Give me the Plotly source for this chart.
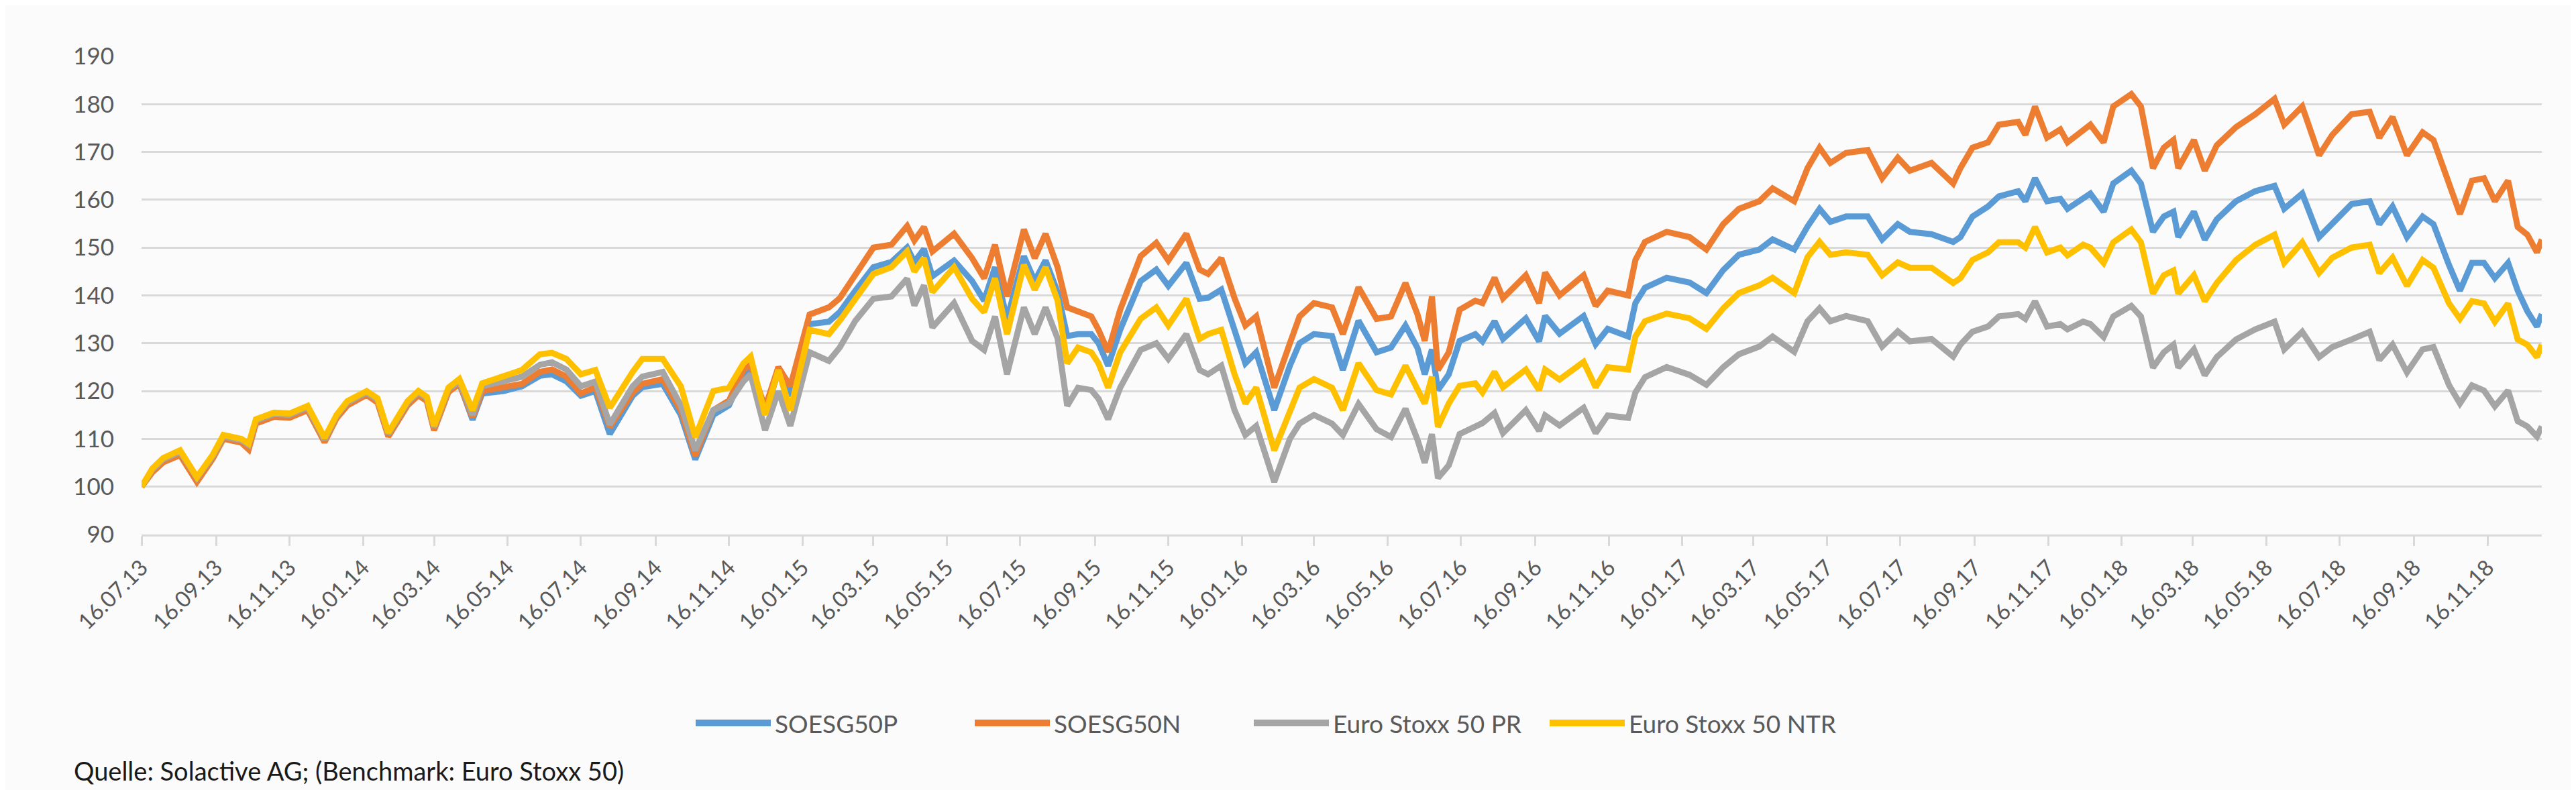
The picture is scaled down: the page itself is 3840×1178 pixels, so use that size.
import plotly.graph_objects as go

dates = [
    "2013-07-16", "2013-07-25", "2013-08-03", "2013-08-17", "2013-08-31", "2013-09-13", "2013-09-22",
    "2013-10-07", "2013-10-13", "2013-10-19", "2013-11-03", "2013-11-16", "2013-12-01", "2013-12-15",
    "2013-12-25", "2014-01-03", "2014-01-19", "2014-01-28", "2014-02-06", "2014-02-22", "2014-03-03",
    "2014-03-10", "2014-03-16", "2014-03-28", "2014-04-06", "2014-04-17", "2014-04-25", "2014-05-13",
    "2014-05-28", "2014-06-12", "2014-06-22", "2014-07-04", "2014-07-16", "2014-07-28", "2014-08-09",
    "2014-08-28", "2014-09-05", "2014-09-22", "2014-10-07", "2014-10-19", "2014-11-03", "2014-11-16",
    "2014-11-28", "2014-12-04", "2014-12-16", "2014-12-27", "2015-01-06", "2015-01-22", "2015-02-07",
    "2015-02-16", "2015-03-01", "2015-03-16", "2015-03-31", "2015-04-13", "2015-04-19", "2015-04-27",
    "2015-05-04", "2015-05-22", "2015-06-06", "2015-06-16", "2015-06-25", "2015-07-05", "2015-07-19",
    "2015-07-28", "2015-08-06", "2015-08-16", "2015-08-24", "2015-09-02", "2015-09-13", "2015-09-19",
    "2015-09-27", "2015-10-07", "2015-10-24", "2015-11-06", "2015-11-16", "2015-12-01", "2015-12-12",
    "2015-12-19", "2015-12-30", "2016-01-10", "2016-01-19", "2016-01-28", "2016-02-12", "2016-02-25",
    "2016-03-04", "2016-03-16", "2016-03-31", "2016-04-09", "2016-04-22", "2016-05-07", "2016-05-19",
    "2016-05-31", "2016-06-10", "2016-06-16", "2016-06-22", "2016-06-27", "2016-07-06", "2016-07-15",
    "2016-07-28", "2016-08-03", "2016-08-13", "2016-08-20", "2016-09-08", "2016-09-19", "2016-09-24",
    "2016-10-06", "2016-10-26", "2016-11-05", "2016-11-15", "2016-12-02", "2016-12-08", "2016-12-16",
    "2017-01-03", "2017-01-22", "2017-02-05", "2017-02-19", "2017-03-04", "2017-03-21", "2017-04-01",
    "2017-04-19", "2017-04-30", "2017-05-10", "2017-05-19", "2017-06-01", "2017-06-19", "2017-07-01",
    "2017-07-14", "2017-07-24", "2017-08-11", "2017-08-29", "2017-09-04", "2017-09-14", "2017-09-27",
    "2017-10-06", "2017-10-22", "2017-10-28", "2017-11-05", "2017-11-15", "2017-11-26", "2017-12-02",
    "2017-12-15", "2017-12-21", "2018-01-01", "2018-01-09", "2018-01-24", "2018-02-01", "2018-02-11",
    "2018-02-20", "2018-02-28", "2018-03-04", "2018-03-17", "2018-03-26", "2018-04-05", "2018-04-21",
    "2018-05-07", "2018-05-23", "2018-05-31", "2018-06-15", "2018-06-29", "2018-07-10", "2018-07-26",
    "2018-08-10", "2018-08-18", "2018-08-29", "2018-09-10", "2018-09-23", "2018-10-02", "2018-10-15",
    "2018-10-24", "2018-11-03", "2018-11-13", "2018-11-22", "2018-12-03", "2018-12-11", "2018-12-19",
    "2018-12-27", "2018-12-31",
]

soesg50p = [
    100.0, 103.3, 105.4, 107.0, 101.5, 106.0, 110.3, 109.5, 108.5, 113.6, 115.0, 114.8, 116.4, 109.6,
    114.6, 117.4, 119.5, 118.0, 110.8, 117.4, 119.5, 118.2, 112.0, 120.0, 121.7, 114.0, 119.5, 120.0,
    121.0, 123.2, 123.5, 122.0, 119.0, 120.0, 111.0, 119.0, 120.8, 121.5, 115.0, 105.7, 115.0, 117.0,
    123.5, 124.8, 115.5, 124.0, 119.0, 134.0, 134.5, 136.5, 141.0, 145.9, 147.0, 150.0, 147.0, 149.7,
    144.0, 147.3, 143.0, 138.9, 145.9, 135.0, 148.2, 143.0, 147.3, 140.7, 131.5, 131.9, 131.9, 130.0,
    125.3, 132.8, 143.0, 145.4, 142.0, 146.8, 139.3, 139.5, 141.2, 132.8, 125.8, 128.1, 116.0, 125.3,
    130.0, 131.9, 131.5, 124.4, 134.7, 128.1, 129.1, 133.7, 129.0, 123.5, 128.7, 120.2, 123.5, 130.5,
    131.9, 130.4, 134.6, 130.9, 135.2, 130.4, 135.7, 132.0, 135.7, 129.8, 133.0, 131.4, 138.4, 141.6,
    143.7, 142.7, 140.5, 145.3, 148.5, 149.6, 151.7, 149.6, 154.4, 158.1, 155.4, 156.5, 156.5, 151.7,
    154.9, 153.3, 152.8, 151.2, 152.2, 156.5, 158.6, 160.7, 161.8, 159.7, 164.5, 159.7, 160.2, 158.1,
    160.2, 161.3, 157.5, 163.4, 166.1, 163.4, 153.3, 156.5, 157.5, 152.2, 157.5, 151.7, 155.9, 159.7,
    161.8, 162.9, 158.1, 161.3, 152.2, 154.9, 159.1, 159.7, 154.9, 158.6, 152.2, 156.5, 154.9, 146.3,
    141.0, 146.8, 146.8, 143.6, 146.8, 141.0, 136.7, 133.5, 136.1,
]

soesg50n = [
    100.0, 103.0, 105.1, 106.6, 101.0, 105.8, 110.0, 109.2, 107.8, 113.2, 114.6, 114.4, 116.0, 109.3,
    114.3, 117.0, 119.2, 117.6, 110.5, 117.0, 119.1, 117.9, 111.8, 119.8, 121.5, 114.5, 120.0, 120.8,
    121.5, 124.0, 124.5, 123.0, 119.5, 120.8, 112.5, 119.7, 121.5, 122.5, 116.0, 106.5, 116.0, 118.0,
    124.4, 125.5, 116.5, 125.0, 121.0, 136.0, 137.5, 139.4, 144.5, 150.0, 150.6, 154.5, 151.5, 154.3,
    149.2, 152.9, 147.8, 143.6, 150.6, 139.8, 153.8, 147.8, 152.9, 145.9, 137.5, 136.5, 135.6, 132.8,
    128.2, 137.0, 148.2, 151.0, 147.3, 152.9, 145.4, 144.5, 147.8, 139.4, 133.7, 135.6, 120.7, 130.0,
    135.6, 138.4, 137.5, 131.9, 141.7, 135.1, 135.6, 142.6, 136.0, 130.5, 139.8, 124.4, 128.1, 137.0,
    138.9, 138.4, 143.7, 139.4, 144.2, 138.4, 144.8, 140.0, 144.2, 137.8, 141.0, 140.0, 147.4, 151.2,
    153.3, 152.2, 149.6, 154.9, 158.1, 159.7, 162.4, 159.7, 166.6, 170.9, 167.7, 169.8, 170.4, 164.5,
    168.8, 166.1, 167.7, 163.4, 166.6, 170.9, 172.0, 175.7, 176.3, 173.6, 179.5, 173.0, 174.7, 172.0,
    174.7, 175.7, 172.0, 179.5, 182.1, 179.5, 166.6, 170.9, 172.5, 166.6, 172.5, 166.1, 171.4, 175.2,
    177.9, 181.1, 175.7, 179.5, 169.3, 173.6, 177.9, 178.4, 173.0, 177.3, 169.3, 174.1, 172.5, 162.9,
    157.0, 164.0, 164.5, 159.7, 164.0, 154.3, 152.7, 149.0, 151.7,
]

euro_stoxx_50_pr = [
    100.0, 103.5, 105.7, 107.3, 101.8, 106.3, 110.5, 109.7, 108.7, 113.8, 115.2, 115.0, 116.6, 109.8,
    114.8, 117.6, 119.7, 118.2, 111.0, 117.6, 119.7, 118.5, 112.4, 120.4, 122.0, 115.0, 121.0, 122.0,
    123.0, 125.5, 126.0, 124.5, 121.0, 122.0, 113.0, 121.0, 123.0, 124.0, 117.0, 107.6, 116.0, 117.5,
    122.0, 123.5, 111.8, 120.0, 112.7, 128.1, 126.3, 129.1, 134.7, 139.3, 139.8, 143.5, 137.9, 142.1,
    133.3, 138.4, 130.5, 128.6, 135.6, 123.5, 137.5, 131.9, 137.5, 131.0, 116.9, 120.7, 120.2, 118.4,
    114.1, 120.7, 128.6, 130.0, 126.7, 131.9, 124.4, 123.5, 125.3, 116.0, 110.8, 112.7, 101.0, 110.0,
    113.2, 115.0, 113.2, 110.8, 117.3, 112.0, 110.4, 116.3, 109.8, 105.0, 111.0, 101.8, 104.5, 111.0,
    112.5, 113.3, 115.4, 111.2, 116.0, 111.7, 114.9, 112.8, 116.5, 111.2, 114.9, 114.4, 119.7, 122.9,
    125.0, 123.4, 121.3, 125.0, 127.7, 129.3, 131.4, 128.2, 134.6, 137.3, 134.6, 135.7, 134.6, 129.3,
    132.5, 130.4, 130.9, 127.2, 129.7, 132.4, 133.5, 135.6, 136.1, 135.1, 138.8, 133.5, 134.0, 132.9,
    134.5, 134.0, 131.3, 135.6, 137.8, 135.6, 124.9, 128.1, 129.7, 124.9, 128.7, 123.3, 127.1, 130.8,
    132.9, 134.5, 128.7, 132.4, 127.1, 129.2, 130.8, 132.4, 126.5, 129.7, 123.9, 128.7, 129.2, 121.2,
    117.4, 121.2, 120.1, 116.8, 120.1, 113.7, 112.6, 110.5, 112.6,
]

euro_stoxx_50_ntr = [
    100.0, 103.8, 106.0, 107.6, 102.0, 106.6, 110.8, 110.0, 109.0, 114.1, 115.5, 115.3, 116.9, 110.2,
    115.0, 117.9, 120.0, 118.5, 111.3, 117.9, 120.0, 118.8, 112.7, 120.7, 122.5, 116.0, 121.6, 123.0,
    124.4, 127.7, 128.0, 126.7, 123.5, 124.4, 116.5, 124.0, 126.7, 126.7, 121.0, 110.4, 120.0, 120.7,
    125.8, 127.2, 115.0, 124.4, 116.0, 132.8, 131.9, 134.7, 139.3, 144.5, 145.9, 149.2, 145.0, 147.8,
    140.7, 145.9, 139.3, 136.5, 143.6, 131.9, 146.4, 141.2, 145.9, 138.9, 125.8, 129.1, 128.1, 125.8,
    120.7, 128.1, 135.1, 137.5, 133.7, 139.3, 130.9, 131.9, 132.8, 123.5, 117.4, 120.7, 107.6, 116.0,
    120.7, 122.5, 120.7, 116.0, 125.8, 120.2, 119.3, 125.3, 120.0, 117.4, 123.0, 112.5, 117.4, 121.1,
    121.6, 119.7, 124.0, 120.8, 124.5, 120.2, 124.5, 122.4, 126.1, 120.8, 125.0, 124.5, 131.4, 134.6,
    136.2, 135.2, 133.0, 137.3, 140.5, 142.1, 143.7, 140.5, 148.0, 151.2, 148.5, 149.0, 148.5, 144.2,
    146.9, 145.8, 145.8, 142.6, 143.6, 147.4, 149.0, 151.1, 151.1, 150.0, 154.3, 149.0, 150.0, 148.4,
    150.6, 150.0, 146.8, 151.1, 153.8, 151.1, 140.4, 144.2, 145.2, 140.4, 144.2, 138.8, 142.6, 147.4,
    150.6, 152.7, 146.8, 151.1, 144.7, 147.9, 150.0, 150.6, 144.7, 147.9, 142.0, 147.4, 145.8, 138.3,
    135.1, 138.8, 138.3, 134.5, 138.3, 130.8, 129.7, 127.1, 129.7,
]

series_names = ["SOESG50P", "SOESG50N", "Euro Stoxx 50 PR", "Euro Stoxx 50 NTR"]
series_colors = ["#5B9BD5", "#ED7D31", "#A5A5A5", "#FFC000"]
series_values = [soesg50p, soesg50n, euro_stoxx_50_pr, euro_stoxx_50_ntr]

tick_dates = [
    "2013-07-16", "2013-09-16", "2013-11-16", "2014-01-16", "2014-03-16", "2014-05-16", "2014-07-16",
    "2014-09-16", "2014-11-16", "2015-01-16", "2015-03-16", "2015-05-16", "2015-07-16", "2015-09-16",
    "2015-11-16", "2016-01-16", "2016-03-16", "2016-05-16", "2016-07-16", "2016-09-16", "2016-11-16",
    "2017-01-16", "2017-03-16", "2017-05-16", "2017-07-16", "2017-09-16", "2017-11-16", "2018-01-16",
    "2018-03-16", "2018-05-16", "2018-07-16", "2018-09-16", "2018-11-16",
]
tick_labels = [
    "16.07.13", "16.09.13", "16.11.13", "16.01.14", "16.03.14", "16.05.14", "16.07.14",
    "16.09.14", "16.11.14", "16.01.15", "16.03.15", "16.05.15", "16.07.15", "16.09.15",
    "16.11.15", "16.01.16", "16.03.16", "16.05.16", "16.07.16", "16.09.16", "16.11.16",
    "16.01.17", "16.03.17", "16.05.17", "16.07.17", "16.09.17", "16.11.17", "16.01.18",
    "16.03.18", "16.05.18", "16.07.18", "16.09.18", "16.11.18",
]
y_ticks = [90, 100, 110, 120, 130, 140, 150, 160, 170, 180, 190]

source_text = "Quelle: Solactive AG; (Benchmark: Euro Stoxx 50)"

FONT = "Lato, 'Open Sans', sans-serif"
GRID = "#D9D9D9"
TXT = "#595959"

# plot area in page pixels (used only to place the hand-drawn legend)
PL, PR, PT, PB = 203, 3781, 76, 789


def px_x(p):
    return (p - PL) / (PR - PL)


def px_y(p):
    return (PB - p) / (PB - PT)


fig = go.Figure()
for name, color, vals in zip(series_names, series_colors, series_values):
    fig.add_trace(go.Scatter(
        x=dates, y=vals, mode="lines", name=name,
        line=dict(color=color, width=9),
    ))

# legend drawn as line samples + text (Excel-style long line keys)
legend_line_starts = [1029, 1445, 1861, 2302]
legend_y = px_y(1070)
shapes = []
annotations = []
for name, color, start in zip(series_names, series_colors, legend_line_starts):
    shapes.append(dict(
        type="line", xref="paper", yref="paper",
        x0=px_x(start), x1=px_x(start + 112), y0=legend_y, y1=legend_y,
        line=dict(color=color, width=10),
    ))
    annotations.append(dict(
        text=name, xref="paper", yref="paper", x=px_x(start + 116), y=legend_y,
        xanchor="left", yanchor="middle", showarrow=False,
        font=dict(family=FONT, size=37, color=TXT),
    ))

annotations.append(dict(
    text=source_text, xref="paper", yref="paper", x=px_x(100), y=px_y(1141),
    xanchor="left", yanchor="middle", showarrow=False,
    font=dict(family=FONT, size=38, color="#1A1A1A"),
))

fig.update_layout(
    width=3840, height=1178,
    paper_bgcolor="#FBFBFB", plot_bgcolor="#FBFBFB",
    margin=dict(l=PL, r=3840 - PR, t=PT, b=1178 - PB, autoexpand=False),
    font=dict(family=FONT, size=30, color=TXT),
    showlegend=False,
    shapes=shapes,
    annotations=annotations,
)

fig.update_xaxes(
    type="date", range=["2013-07-16", "2018-12-31"],
    tickvals=tick_dates, ticktext=tick_labels, tickangle=-45,
    tickfont=dict(family=FONT, size=33, color=TXT),
    showgrid=False, zeroline=False,
    showline=True, linecolor=GRID, linewidth=3,
    ticks="outside", ticklen=14, tickwidth=3, tickcolor=GRID,
    automargin=False,
)
fig.update_yaxes(
    range=[90, 190], tickvals=y_ticks,
    tickfont=dict(family=FONT, size=35, color=TXT),
    showgrid=True, gridcolor=GRID, gridwidth=3,
    zeroline=False, showline=False, ticks="",
    ticklabelstandoff=40, automargin=False,
)

fig.write_html("out.html")
